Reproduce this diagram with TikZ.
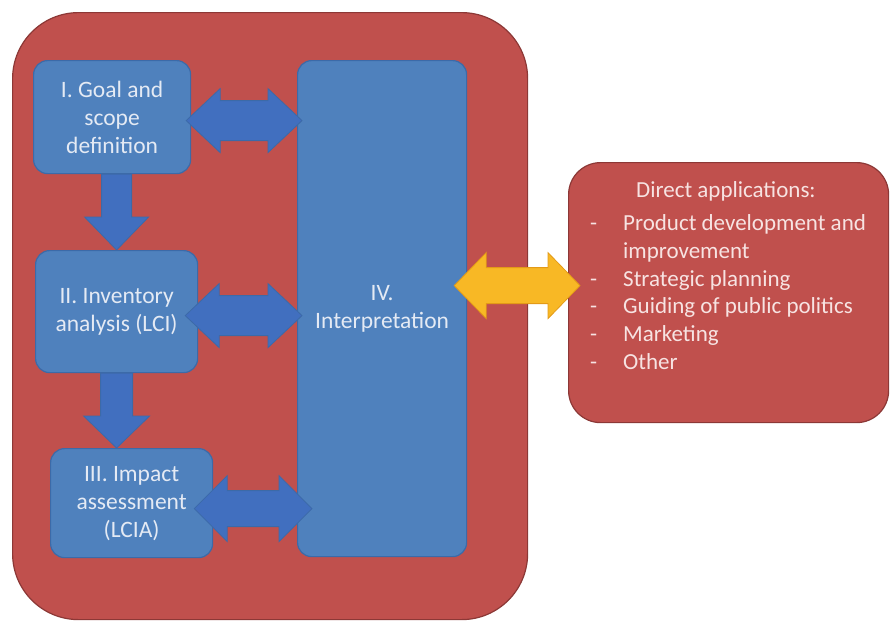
\documentclass[tikz,border=0pt]{standalone}
\usepackage{fontspec}
\setmainfont{Carlito}
\usetikzlibrary{calc}
\definecolor{lcared}{HTML}{C0504D}
\definecolor{lcaredline}{HTML}{8C3836}
\definecolor{lcablue}{HTML}{4F81BD}
\definecolor{lcablueline}{HTML}{3C6AA8}
\definecolor{arrowblue}{HTML}{416FBF}
\definecolor{arrowyellow}{HTML}{F8B825}
\definecolor{arrowyellowline}{HTML}{E39A17}
\definecolor{textblue}{HTML}{E4EAF4}
\definecolor{textred}{HTML}{F7E3E2}
% horizontal double block arrow: left tip, right tip, shaft half, head half, head length, style
\newcommand{\hdblarrow}[6]{%
  \draw[#6] let \p1=(#1), \p2=(#2) in
    (\x1,\y1) -- (\x1+#5pt,\y1+#4pt) -- (\x1+#5pt,\y1+#3pt) -- (\x2-#5pt,\y1+#3pt)
    -- (\x2-#5pt,\y1+#4pt) -- (\x2,\y1) -- (\x2-#5pt,\y1-#4pt) -- (\x2-#5pt,\y1-#3pt)
    -- (\x1+#5pt,\y1-#3pt) -- (\x1+#5pt,\y1-#4pt) -- cycle;}
% vertical downward block arrow: top, tip, shaft half, head half, head length, style
\newcommand{\vdownarrow}[6]{%
  \draw[#6] let \p1=(#1), \p2=(#2) in
    (\x2-#3pt,\y1) -- (\x2-#3pt,\y2+#5pt) -- (\x2-#4pt,\y2+#5pt) -- (\x2,\y2)
    -- (\x2+#4pt,\y2+#5pt) -- (\x2+#3pt,\y2+#5pt) -- (\x2+#3pt,\y1) -- cycle;}
\begin{document}
\begin{tikzpicture}[x=1pt,y=-1pt,
  outerbox/.style={rectangle, rounded corners=66pt, fill=lcared, draw=lcaredline, line width=1.2pt, inner sep=0pt},
  stagebox/.style={rectangle, rounded corners=14pt, fill=lcablue, draw=lcablueline, line width=1.2pt,
    text=textblue, align=center, inner sep=2pt, font=\fontsize{23.5}{28}\selectfont},
  appbox/.style={rectangle, rounded corners=32pt, fill=lcared, draw=lcaredline, line width=1.2pt, inner sep=0pt},
  apptext/.style={text=textred, inner sep=0pt, font=\fontsize{23}{27.8}\selectfont},
  bluearrow/.style={fill=arrowblue, draw=lcablueline, line width=0.8pt, line join=miter},
  yellowarrow/.style={fill=arrowyellow, draw=arrowyellowline, line width=0.8pt, line join=miter}]
\useasboundingbox (0,0) rectangle (890,622);
\node[outerbox, minimum width=515pt, minimum height=607pt, anchor=north west] (frame) at (12,12) {};
\node[stagebox, minimum width=157pt, minimum height=113pt, anchor=north west] (goal) at (33,60) {I. Goal and\\scope\\definition};
\node[stagebox, minimum width=162pt, minimum height=122pt, anchor=north west] (inv) at (35,250) {II. Inventory\\analysis (LCI)};
\node[stagebox, minimum width=162pt, minimum height=109pt, anchor=north west] (imp) at (50,448) {III. Impact\\assessment\\(LCIA)};
\node[stagebox, minimum width=169pt, minimum height=496pt, anchor=north west] (interp) at (297,60) {IV.\\Interpretation};
\node[appbox, minimum width=320pt, minimum height=260pt, anchor=north west] (apps) at (568,162) {};
\node[apptext, anchor=north west] (appstext) at ($(apps.north west)+(22,16)$) {%
  \begin{tabular}{@{}p{33pt}@{}l@{}}
  \multicolumn{2}{@{}l@{}}{\hspace{46pt}Direct applications:}\\[5pt]
  - & Product development and\\
    & improvement\\
  - & Strategic planning\\
  - & Guiding of public politics\\
  - & Marketing\\
  - & Other
  \end{tabular}};
% connectors
\vdownarrow{goal.south}{inv.north}{15}{32}{33}{bluearrow}
\vdownarrow{inv.south}{inv.south |- imp.north}{16}{33}{32}{bluearrow}
\hdblarrow{$(goal.east)+(-5,3.5)$}{$(interp.west |- goal.east)+(5,3.5)$}{20}{32}{34}{bluearrow}
\hdblarrow{$(inv.east)+(-13,4)$}{$(interp.west |- inv.east)+(5,4)$}{20}{32}{34}{bluearrow}
\hdblarrow{$(imp.east)+(-19,5.5)$}{$(interp.west |- imp.east)+(15,5.5)$}{18}{33}{33}{bluearrow}
\hdblarrow{$(interp.east)+(-13,-23)$}{$(apps.west |- interp.east)+(12,-23)$}{18}{33}{32}{yellowarrow}
\end{tikzpicture}
\end{document}
